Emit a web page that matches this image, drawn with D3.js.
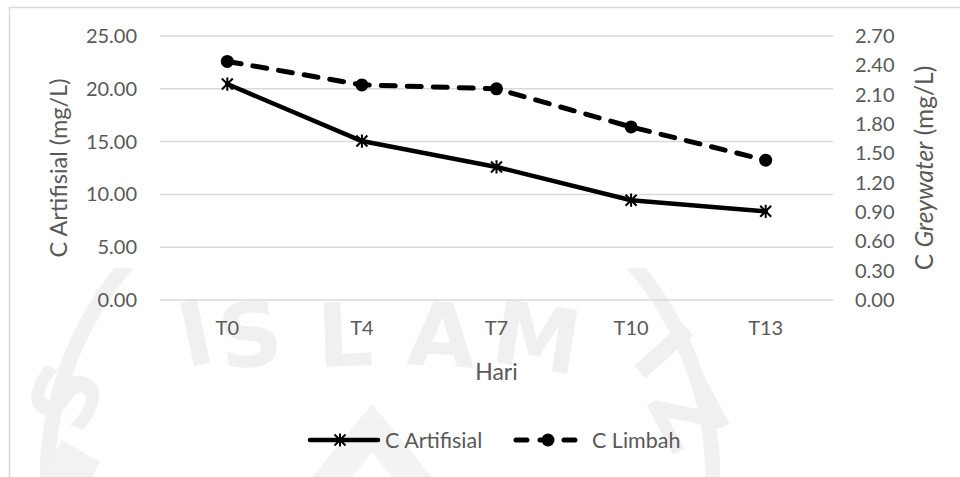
<!DOCTYPE html>
<html>
<head>
<meta charset="utf-8">
<script src="https://cdn.jsdelivr.net/npm/d3@7"></script>
<style>
  html, body { margin: 0; padding: 0; background: #fff; }
  svg { display: block; font-family: Lato, "Open Sans", sans-serif; }
</style>
</head>
<body>
<svg id="chart" width="960" height="477"></svg>
<script>
// Sampling days
const categories = ["T0", "T4", "T7", "T10", "T13"];
// Concentration in artificial wastewater (left axis, mg/L)
const cArtifisial = [20.45, 15.05, 12.6, 9.45, 8.4];
// Concentration in greywater (right axis, mg/L)
const cLimbah = [2.44, 2.2, 2.16, 1.77, 1.43];
// Axis ticks
const leftTicks = [0, 5, 10, 15, 20, 25];
const rightTicks = [0, 0.3, 0.6, 0.9, 1.2, 1.5, 1.8, 2.1, 2.4, 2.7];

const svg = d3.select("#chart");
const plot = { left: 160, right: 833, top: 36, bottom: 300 };
const textColor = "#595959";
const gridColor = "#d9d9d9";
const fontSize = 20;

// Faint logo watermark behind the chart
const wm = svg.append("g");
const clip = svg.append("defs").append("clipPath").attr("id", "wmClip");
clip.append("rect").attr("x", 0).attr("y", 268).attr("width", 960).attr("height", 220);
wm.append("circle").attr("cx", 380).attr("cy", 481).attr("r", 333)
  .attr("fill", "none").attr("stroke", "#f1f1f1").attr("stroke-width", 15)
  .attr("clip-path", "url(#wmClip)");
const wmLetters = [
  { t: "I", x: 202, y: 364, r: -12 },
  { t: "S", x: 254, y: 366, r: -7 },
  { t: "L", x: 346, y: 366, r: -2 },
  { t: "A", x: 440, y: 366, r: 3 },
  { t: "M", x: 532, y: 368, r: 9 },
  { t: "S", x: 95, y: 408, r: -68 },
  { t: "I", x: 640, y: 372, r: 48 },
  { t: "Z", x: 660, y: 430, r: 62 }
];
wm.selectAll("text").data(wmLetters).join("text")
  .attr("transform", d => `translate(${d.x},${d.y}) rotate(${d.r})`)
  .attr("text-anchor", "middle")
  .attr("fill", "#f0f0f0")
  .style("font-family", "'DejaVu Sans', sans-serif")
  .style("font-weight", "bold")
  .style("font-size", "88px")
  .text(d => d.t);
wm.append("path")
  .attr("d", "M312,477 L372,404 L432,477 Z M352,477 L372,452 L392,477 Z")
  .attr("fill", "#f3f3f3").attr("fill-rule", "evenodd");
wm.append("path")
  .attr("d", "M40,477 L62,440 L100,462 L92,477 Z")
  .attr("fill", "#f2f2f2");

// Chart border
svg.append("rect")
  .attr("x", 9.5).attr("y", 7.5).attr("width", 980).attr("height", 500)
  .attr("fill", "none").attr("stroke", gridColor).attr("stroke-width", 1.5);

// Scales
const x = d3.scaleBand().domain(categories).range([plot.left, plot.right]);
const yL = d3.scaleLinear().domain([0, 25]).range([plot.bottom, plot.top]);
const yR = d3.scaleLinear().domain([0, 2.7]).range([plot.bottom, plot.top]);
const cx = d => x(d) + x.bandwidth() / 2;

// Gridlines
svg.append("g").selectAll("line").data(leftTicks).join("line")
  .attr("x1", plot.left).attr("x2", plot.right)
  .attr("y1", d => yL(d)).attr("y2", d => yL(d))
  .attr("stroke", gridColor).attr("stroke-width", 1.5);

function styleAxis(g) {
  g.select(".domain").remove();
  g.selectAll("text").attr("fill", textColor).style("font-size", fontSize + "px")
    .style("font-family", "Lato, sans-serif");
}

// Left axis labels
svg.append("g").attr("transform", `translate(${plot.left - 23},0)`)
  .call(d3.axisLeft(yL).tickValues(leftTicks).tickFormat(d3.format(".2f")).tickSize(0).tickPadding(0))
  .call(styleAxis);

// Right axis labels
svg.append("g").attr("transform", `translate(${plot.right + 22},0)`)
  .call(d3.axisRight(yR).tickValues(rightTicks).tickFormat(d3.format(".2f")).tickSize(0).tickPadding(0))
  .call(styleAxis);

// Category labels
svg.append("g").attr("transform", `translate(0,${plot.bottom + 21})`)
  .call(d3.axisBottom(x).tickSize(0).tickPadding(0))
  .call(styleAxis);

// Axis titles
svg.append("text")
  .attr("transform", `translate(67,${(plot.top + plot.bottom) / 2}) rotate(-90)`)
  .attr("text-anchor", "middle").attr("fill", textColor).style("font-size", "23.5px")
  .text("C Artifisial (mg/L)");

const rt = svg.append("text")
  .attr("transform", `translate(933,${(plot.top + plot.bottom) / 2}) rotate(-90)`)
  .attr("text-anchor", "middle").attr("fill", textColor).style("font-size", "24.5px");
rt.append("tspan").text("C ");
rt.append("tspan").style("font-style", "italic").text("Greywater");
rt.append("tspan").text(" (mg/L)");

svg.append("text")
  .attr("x", (plot.left + plot.right) / 2).attr("y", 380)
  .attr("text-anchor", "middle").attr("fill", textColor).style("font-size", "23px")
  .text("Hari");

// Marker shapes
function starMarker(g, px, py, s) {
  const p = d3.path();
  p.moveTo(px - s, py - s); p.lineTo(px + s, py + s);
  p.moveTo(px - s, py + s); p.lineTo(px + s, py - s);
  p.moveTo(px, py - s * 1.2); p.lineTo(px, py + s * 1.2);
  g.append("path").attr("d", p.toString()).attr("stroke", "#000").attr("stroke-width", 2).attr("fill", "none");
}

// C Artifisial series (solid, star markers)
const lineL = d3.line().x((d, i) => cx(categories[i])).y(d => yL(d));
svg.append("path").datum(cArtifisial)
  .attr("d", lineL).attr("fill", "none").attr("stroke", "#000")
  .attr("stroke-width", 4.5).attr("stroke-linejoin", "round").attr("stroke-linecap", "round");
const starsG = svg.append("g");
cArtifisial.forEach((v, i) => starMarker(starsG, cx(categories[i]), yL(v), 5.5));

// C Limbah series (dashed, circle markers)
const lineR = d3.line().x((d, i) => cx(categories[i])).y(d => yR(d));
svg.append("path").datum(cLimbah)
  .attr("d", lineR).attr("fill", "none").attr("stroke", "#000")
  .attr("stroke-width", 5).attr("stroke-dasharray", "14,12").attr("stroke-linecap", "round");
svg.append("g").selectAll("circle").data(cLimbah).join("circle")
  .attr("cx", (d, i) => cx(categories[i])).attr("cy", d => yR(d))
  .attr("r", 6.5).attr("fill", "#000");

// Legend
const ly = 440;
const leg = svg.append("g");
leg.append("line").attr("x1", 310).attr("x2", 378).attr("y1", ly).attr("y2", ly)
  .attr("stroke", "#000").attr("stroke-width", 4.5).attr("stroke-linecap", "round");
starMarker(leg, 340, ly, 5.5);
leg.append("text").attr("x", 385).attr("y", ly).attr("dy", "0.35em")
  .attr("fill", textColor).style("font-size", "21.5px").text("C Artifisial");

leg.append("line").attr("x1", 516).attr("x2", 580).attr("y1", ly).attr("y2", ly)
  .attr("stroke", "#000").attr("stroke-width", 5).attr("stroke-dasharray", "11,13")
  .attr("stroke-linecap", "round");
leg.append("circle").attr("cx", 548).attr("cy", ly).attr("r", 6.5).attr("fill", "#000");
leg.append("text").attr("x", 592).attr("y", ly).attr("dy", "0.35em")
  .attr("fill", textColor).style("font-size", "21.5px").text("C Limbah");
</script>
</body>
</html>
